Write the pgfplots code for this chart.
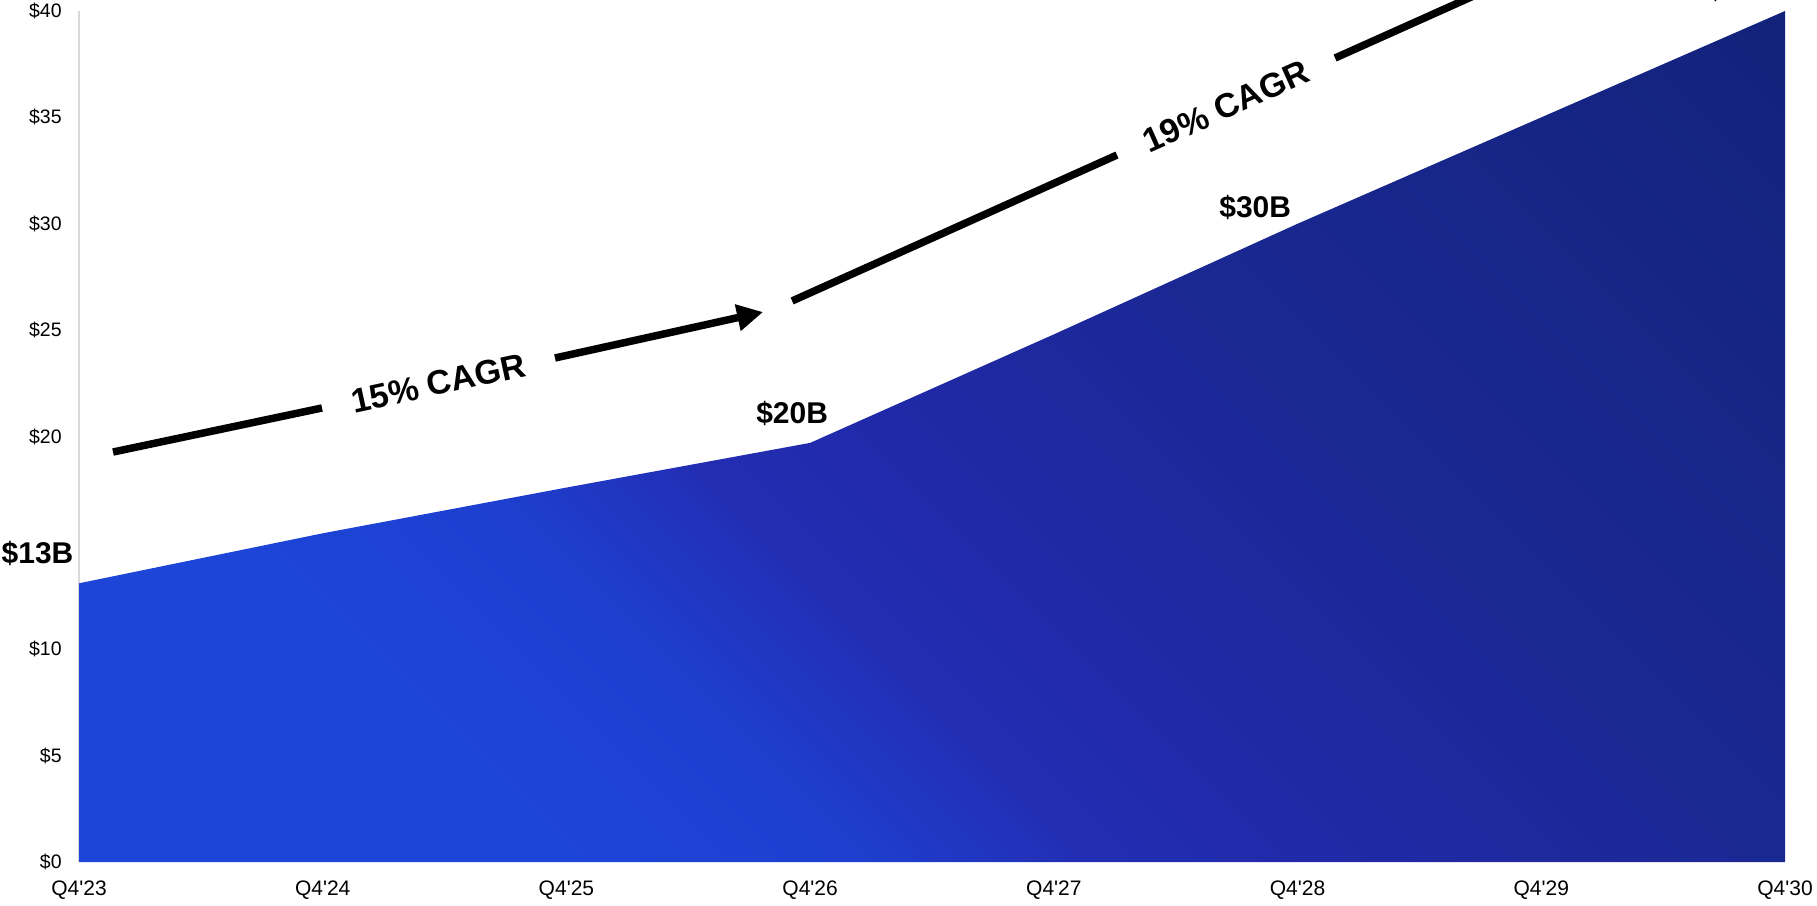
\documentclass[border=0pt]{standalone}
\usepackage{pgfplots}
\pgfplotsset{compat=1.18}
\usepackage{fontspec}
\setmainfont{Liberation Sans}
\usetikzlibrary{arrows.meta}
\definecolor{g1}{HTML}{1D45D8}
\definecolor{g2}{HTML}{1E3FD0}
\definecolor{g3}{HTML}{222DB2}
\definecolor{g4}{HTML}{2029A6}
\definecolor{g5}{HTML}{1A2892}
\definecolor{g6}{HTML}{162585}
\definecolor{g7}{HTML}{12227A}
\definecolor{axisgray}{HTML}{D9D9D9}
\pgfdeclarehorizontalshading{areashade}{100bp}{color(0bp)=(g1); color(28bp)=(g1); color(36bp)=(g2); color(43bp)=(g3); color(50bp)=(g4); color(62bp)=(g5); color(75bp)=(g6); color(86bp)=(g7); color(100bp)=(g7)}
\begin{document}
\begin{tikzpicture}
\begin{axis}[
  scale only axis, width=853bp, height=425.5bp,
  xmin=0, xmax=7, ymin=0, ymax=40,
  clip=false,
  axis lines=left,
  axis line style={-},
  x axis line style={draw=none},
  y axis line style={draw=axisgray, line width=0.6bp},
  xtick={0,1,2,3,4,5,6,7},
  xticklabels={Q4\textquotesingle23,Q4\textquotesingle24,Q4\textquotesingle25,Q4\textquotesingle26,Q4\textquotesingle27,Q4\textquotesingle28,Q4\textquotesingle29,Q4\textquotesingle30},
  ytick={0,5,10,20,25,30,35,40},
  yticklabels={\$0,\$5,\$10,\$20,\$25,\$30,\$35,\$40},
  major tick length=0pt,
  tick style={draw=none},
  xticklabel style={font=\fontsize{10.5bp}{12bp}\selectfont, inner sep=0pt, anchor=north, yshift=-9bp},
  yticklabel style={font=\fontsize{9.75bp}{11bp}\selectfont, inner sep=0pt, anchor=east, xshift=-8.5bp},
]
\addplot[draw=none, shading=areashade, shading angle=45] coordinates {(0,13.1) (1,15.45) (2,17.6) (3,19.7) (4,24.8) (5,30) (6,35) (7,40)} \closedcycle;

\node[font=\bfseries\fontsize{15bp}{18bp}\selectfont] at (axis cs:-0.170,14.52) {\$13B};
\node[font=\bfseries\fontsize{15bp}{18bp}\selectfont] at (axis cs:2.926,21.06) {\$20B};
\node[font=\bfseries\fontsize{15bp}{18bp}\selectfont] at (axis cs:4.826,30.76) {\$30B};
\node[font=\bfseries\fontsize{15bp}{18bp}\selectfont, anchor=base] at (axis cs:6.828,40.56) {\$40B};

\draw[line width=3.75bp] (axis cs:0.1395,19.27) -- (axis cs:0.997,21.34);
\draw[line width=3.75bp, -{Triangle[length=13bp,width=12.8bp]}] (axis cs:1.953,23.69) -- (axis cs:2.807,25.85);
\draw[line width=3.75bp] (axis cs:2.926,26.37) -- (axis cs:4.259,33.23);
\draw[line width=3.75bp, -{Triangle[length=13bp,width=12.8bp]}] (axis cs:5.154,37.79) -- (axis cs:6.241,43.37);

\node[rotate=12.15, font=\bfseries\fontsize{17bp}{20bp}\selectfont] at (axis cs:1.475,22.51) {15\% CAGR};
\node[rotate=24.1, font=\bfseries\fontsize{17bp}{20bp}\selectfont] at (axis cs:4.706,35.51) {19\% CAGR};

\coordinate (bbsw) at (rel axis cs:0,0);
\coordinate (bbne) at (rel axis cs:1,1);
\end{axis}
\pgfresetboundingbox
\useasboundingbox ([xshift=-39.5bp,yshift=-21.5bp]bbsw) rectangle ([xshift=16bp,yshift=5.5bp]bbne);
\end{tikzpicture}
\end{document}
